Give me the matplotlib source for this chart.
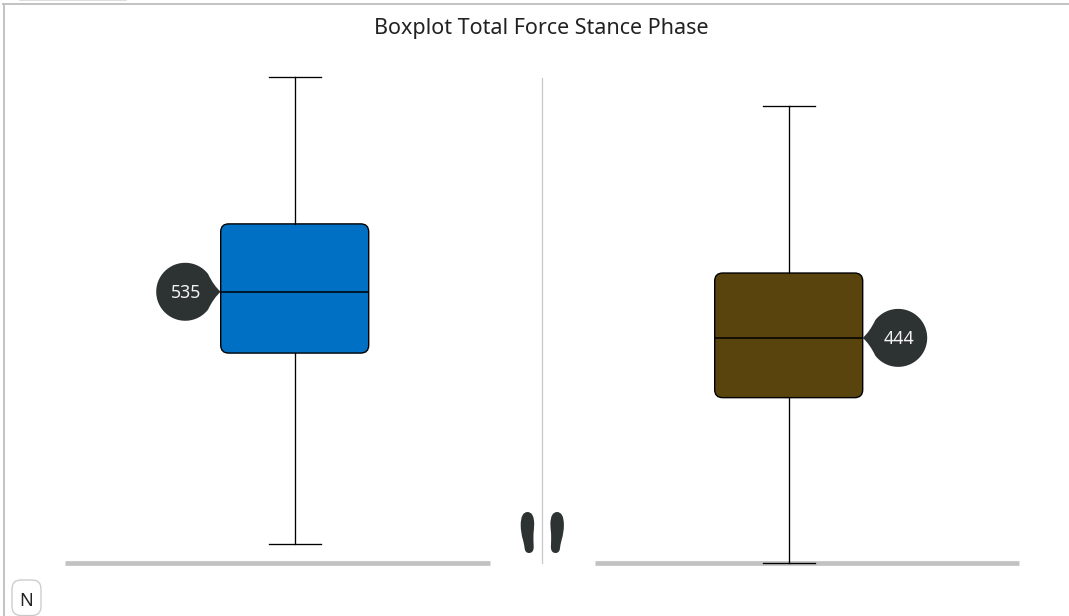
import numpy as np
import matplotlib
matplotlib.use('Agg')
import matplotlib.pyplot as plt
from matplotlib.patches import FancyBboxPatch, PathPatch
from matplotlib.path import Path
from matplotlib.transforms import Affine2D

# values
title = 'Boxplot Total Force Stance Phase'
labels = ['Left', 'Right']
medians = [535, 444]
q1s = [414, 326]
q3s = [669, 572]
whis_low = [37, 0]
whis_high = [959, 902]
box_colors = ['#0070c4', '#5a440e']
callout_side = [-1, 1]

W, H = 1069, 616
DARK = '#2d3233'
GREY = '#c2c2c2'
X_PX = 494.0  # px between the two boxes
Y_PX = 1 / 1.974  # px per unit
X0 = 294.7
Y0 = 562.8

plt.rcParams['font.family'] = ['Noto Sans', 'DejaVu Sans']

fig = plt.figure(figsize=(W / 100, H / 100), dpi=100)
ax = fig.add_axes([0, 0, 1, 1])
ax.set_xlim(-X0 / X_PX, (W - X0) / X_PX)
ax.set_ylim((Y0 - H) / Y_PX, Y0 / Y_PX)
ax.axis('off')
ax.set_zorder(3)  # boxes above the grey baselines

# pixel coords, y going down, for the page furniture
px = Affine2D().scale(1, -1).translate(0, H)

# frame left over from the page
fig.add_artist(plt.Line2D([3.5, 3.5], [4, H], color=GREY, lw=1.4, transform=px))
fig.add_artist(plt.Line2D([3, W], [4, 4], color=GREY, lw=1.4, transform=px))
fig.add_artist(plt.Line2D([20, 126], [0, 0], color='#d8d8d8', lw=1.2, transform=px))

# baselines and centre line
fig.add_artist(plt.Line2D([65, 489.5], [562.6, 562.6], color=GREY, lw=3.4,
                          solid_capstyle='butt', transform=px))
fig.add_artist(plt.Line2D([595, 1019], [562.6, 562.6], color=GREY, lw=3.4,
                          solid_capstyle='butt', transform=px))
fig.add_artist(plt.Line2D([541.6, 541.6], [78, 563], color='#c8c8c8', lw=0.9, transform=px))

# boxes
stats = []
for i in range(len(labels)):
    stats.append({'med': medians[i], 'q1': q1s[i], 'q3': q3s[i],
                  'whislo': whis_low[i], 'whishi': whis_high[i], 'fliers': []})
line = dict(color='black', lw=0.95)
box_w = 148 / X_PX
ax.bxp(stats, positions=[0, 1], widths=box_w, showbox=False, showfliers=False,
       capwidths=52 / X_PX, whiskerprops=line, capprops=line,
       medianprops=dict(color='black', lw=1.1, zorder=2.5), manage_ticks=False)
for i in range(len(labels)):
    box = FancyBboxPatch((i - box_w / 2, q1s[i]), box_w, q3s[i] - q1s[i],
                         boxstyle='round,pad=0,rounding_size=%f' % (8 / X_PX),
                         mutation_aspect=X_PX / Y_PX,
                         fc=box_colors[i], ec='black', lw=1.0, zorder=1.5)
    ax.add_patch(box)


def callout_path(r=29, dist=35.5, a=np.radians(38)):
    # teardrop with the tip at the origin, pointing right
    th = np.linspace(a, 2 * np.pi - a, 60)
    xs = -dist + r * np.cos(th)
    ys = r * np.sin(th)
    verts = list(zip(xs, ys))
    codes = [Path.MOVETO] + [Path.LINETO] * (len(verts) - 1)
    verts += [(-7, -6), (0, 0), (-7, 6), (xs[0], ys[0])]
    codes += [Path.CURVE3, Path.CURVE3, Path.CURVE3, Path.CURVE3]
    return Path(verts, codes)


for i, side in enumerate(callout_side):
    tip = ax.transData.transform((i + side * box_w / 2, medians[i]))
    tr = Affine2D().scale(-side, 1).translate(*tip)
    fig.add_artist(PathPatch(callout_path(), fc=DARK, ec='none', transform=tr, zorder=5))
    cx, cy = tip[0] + side * 35.5, tip[1] + 1
    fig.text((cx + 0.5) / W, cy / H, str(medians[i]), color='#f2f2f2', fontsize=12.8,
             ha='center', va='center_baseline', zorder=6)

# feet
foot = [(527.5, 512), (520.7, 512), (520.7, 525), (520.7, 533), (523, 540), (524.3, 545),
        (524.6, 548), (525, 553), (529, 553), (533.7, 553), (533.7, 547), (533.3, 540),
        (533.5, 534), (534.2, 527), (534.2, 524), (534.2, 512), (527.5, 512)]
foot_codes = [Path.MOVETO] + [Path.CURVE3] * (len(foot) - 1)
foot = np.array(foot)
mirror = foot.copy()
mirror[:, 0] = 2 * 542.3 - mirror[:, 0]
for v in (foot, mirror):
    fig.add_artist(PathPatch(Path(v, foot_codes), fc=DARK, ec='none', transform=px))

# N badge
fig.add_artist(FancyBboxPatch((12, 580), 29, 35.5, boxstyle='round,pad=0,rounding_size=9',
                              fc='white', ec='#c8c8c8', lw=0.9, transform=px))
fig.text(26.5 / W, (H - 601.5) / H, 'N', color='#222222', fontsize=13,
         ha='center', va='center')

fig.text(541.5 / W, (H - 28.5) / H, title, color='#222222', fontsize=15.5,
         ha='center', va='center')

fig.savefig('out.png', dpi=100)
